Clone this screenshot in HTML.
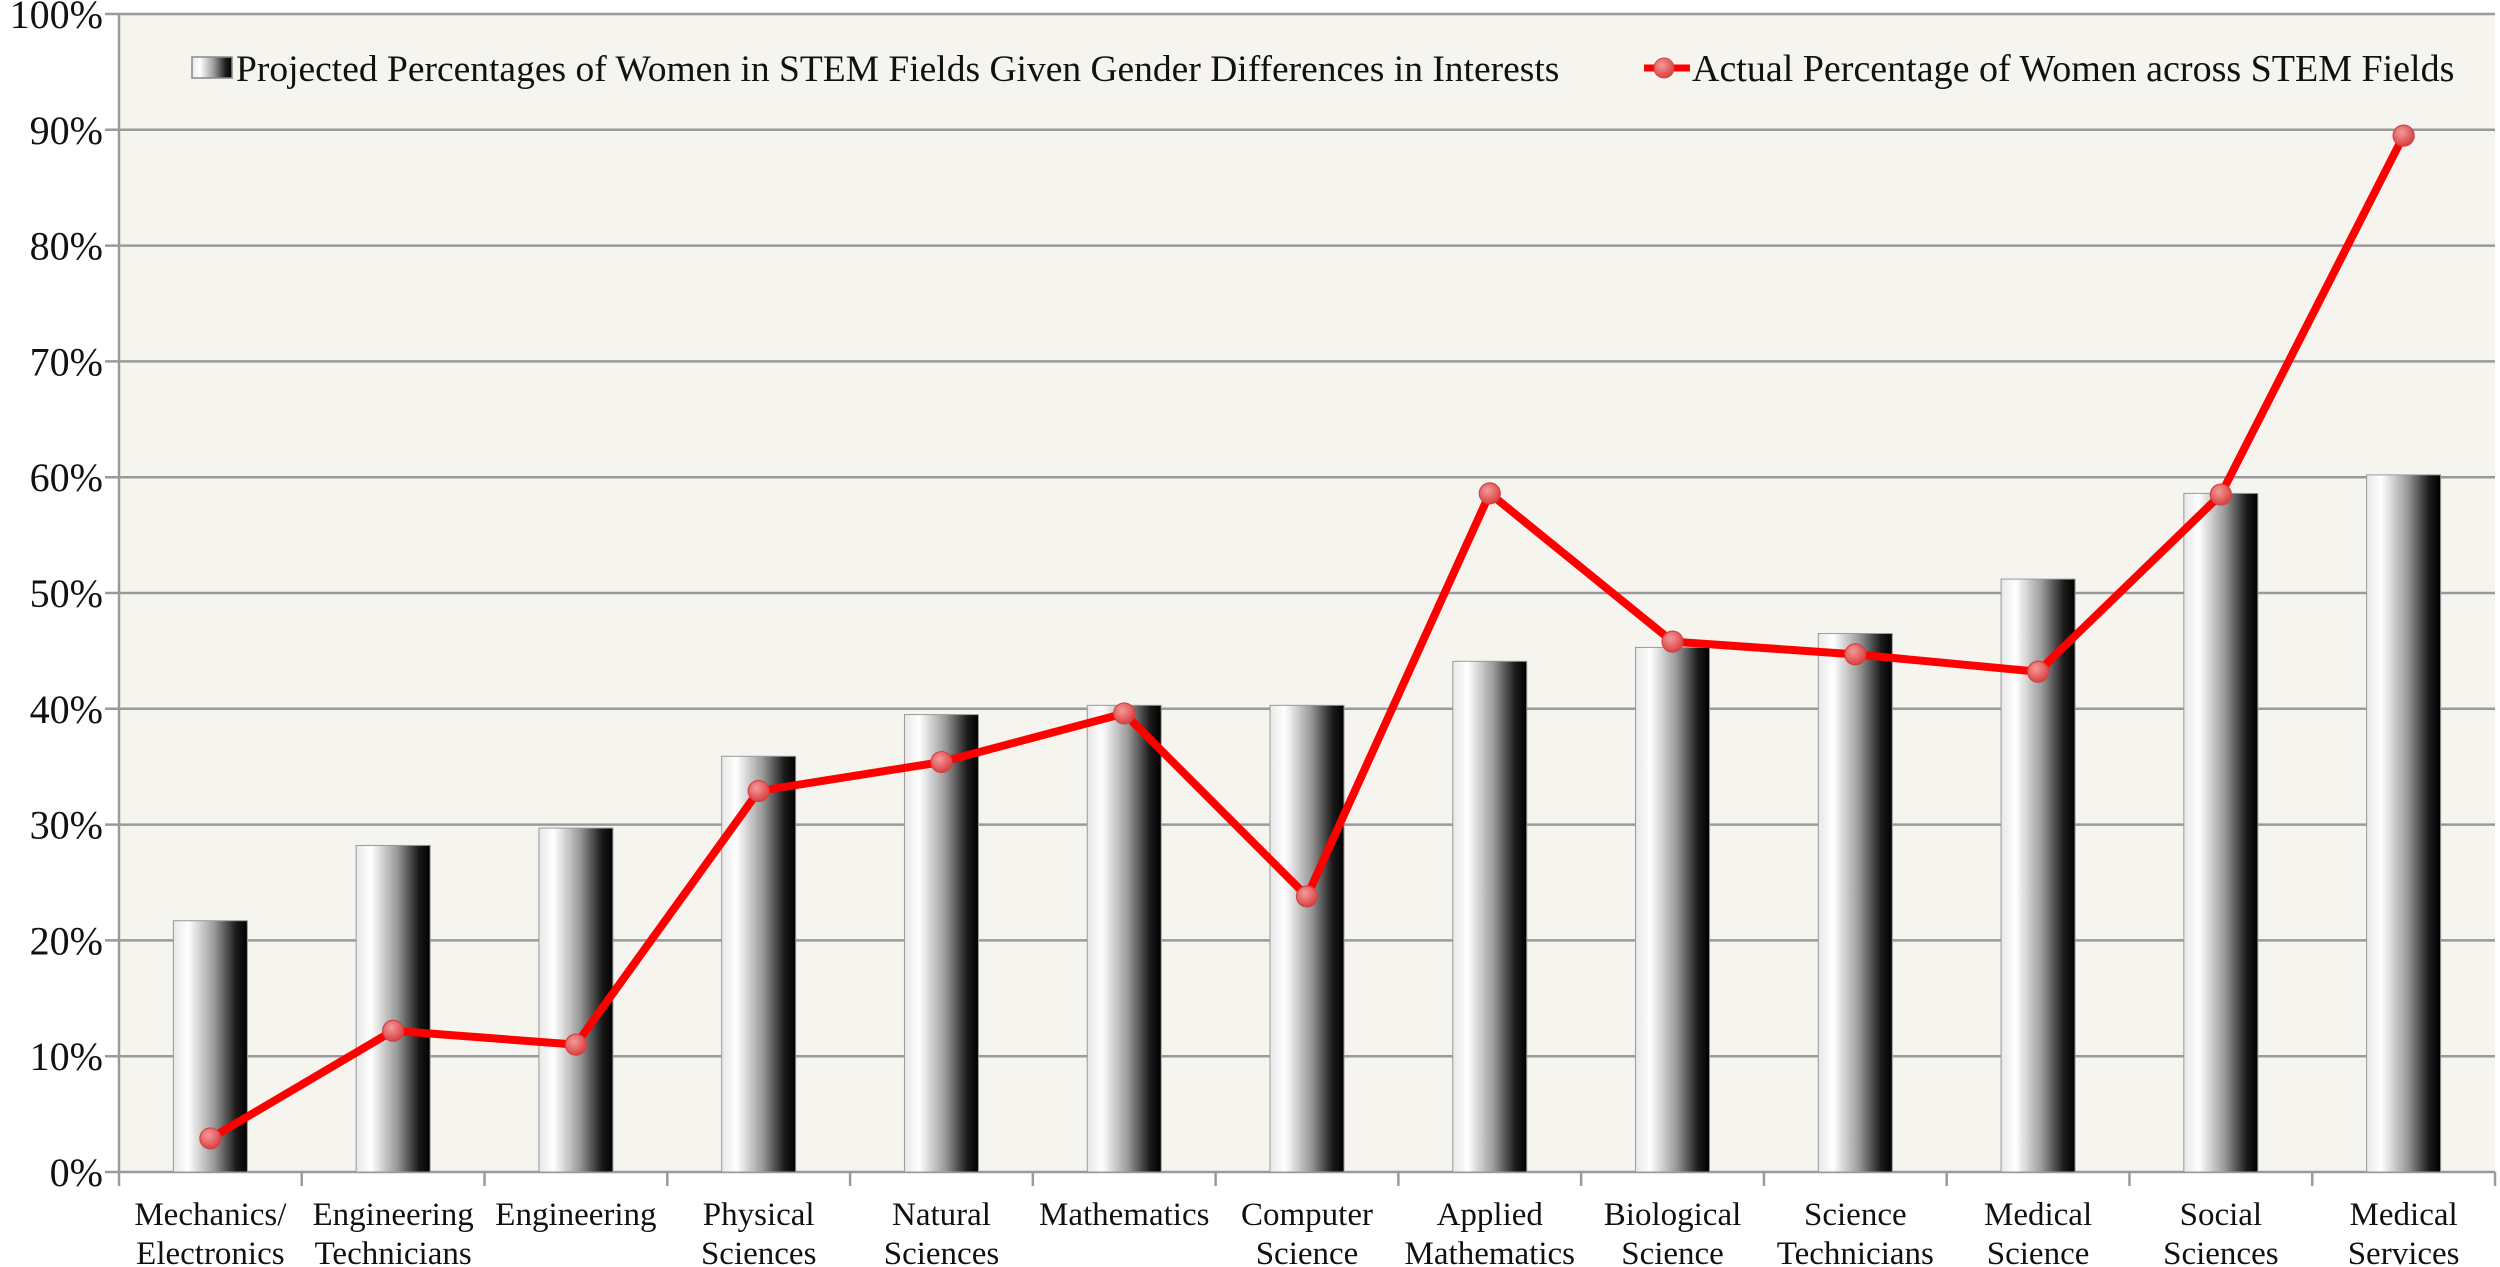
<!DOCTYPE html>
<html><head><meta charset="utf-8"><style>
html,body{margin:0;padding:0;background:#fff;}
svg{display:block;font-family:"Liberation Serif",serif;}
</style></head><body>
<svg id="chart" width="2500" height="1267" viewBox="0 0 2500 1267">
<defs>
<linearGradient id="barg" x1="0" x2="1" y1="0" y2="0">
<stop offset="0" stop-color="#e8e8e8"/><stop offset="0.2" stop-color="#ffffff"/><stop offset="0.55" stop-color="#9a9a9a"/><stop offset="0.85" stop-color="#1a1a1a"/><stop offset="1" stop-color="#000"/>
</linearGradient>
<radialGradient id="dotg" cx="0.4" cy="0.35" r="0.7">
<stop offset="0" stop-color="#f59a9a"/><stop offset="1" stop-color="#d83a3a"/>
</radialGradient>
</defs>
<rect x="119" y="14" width="2376" height="1158" fill="#f5f4ef"/>
<g id="grid"></g><g id="bars"></g><g id="line"></g><g id="axes"></g>
<g>
<rect x="192" y="57" width="40" height="21" fill="url(#barg)" stroke="#888" stroke-width="1.5"/>
<text x="236" y="81" font-size="37.5" fill="#111">Projected Percentages of Women in STEM Fields Given Gender Differences in Interests</text>
<line x1="1644" y1="68" x2="1690" y2="68" stroke="#f00" stroke-width="7"/>
<circle cx="1664" cy="68" r="10" fill="url(#dotg)" stroke="#c44" stroke-width="1"/>
<text x="1692" y="81" font-size="38" fill="#111">Actual Percentage of Women across STEM Fields</text>
</g>
</svg>
<script>
const categories=[["Mechanics/","Electronics"],["Engineering","Technicians"],["Engineering"],["Physical","Sciences"],["Natural","Sciences"],["Mathematics"],["Computer","Science"],["Applied","Mathematics"],["Biological","Science"],["Science","Technicians"],["Medical","Science"],["Social","Sciences"],["Medical","Services"]];
const projected=[21.7,28.2,29.7,35.9,39.5,40.3,40.3,44.1,45.3,46.5,51.2,58.6,60.2];
const actual=[2.9,12.2,11.0,32.9,35.4,39.6,23.8,58.6,45.8,44.7,43.2,58.5,89.5];
const yTicks=[0,10,20,30,40,50,60,70,80,90,100];
const yTickLabels=["0%","10%","20%","30%","40%","50%","60%","70%","80%","90%","100%"];

const NS="http://www.w3.org/2000/svg";
const X0=119,X1=2495,Y0=1172,Y1=14;
const cw=(X1-X0)/categories.length;
const xc=i=>X0+cw*(i+0.5);
const y=v=>Y0-(v/100)*(Y0-Y1);
function mk(tag,attrs,parent){const e=document.createElementNS(NS,tag);for(const k in attrs)e.setAttribute(k,attrs[k]);document.getElementById(parent).appendChild(e);return e;}

yTicks.forEach((t,i)=>{
 const g=mk("line",{x1:X0-14,x2:X1,y1:y(t),y2:y(t),stroke:"#9a9a9a","stroke-width":2.5},"grid");
 
 
 const l=mk("text",{x:X0-16,y:y(t)+14,"text-anchor":"end","font-size":40,fill:"#111"},"axes");
 l.textContent=yTickLabels[i];
 
 
});
const ax=mk("line",{x1:X0,x2:X0,y1:Y1,y2:Y0,stroke:"#9a9a9a","stroke-width":2.5},"axes");


for(let i=0;i<=categories.length;i++){
 const tk=mk("line",{x1:X0+cw*i,x2:X0+cw*i,y1:Y0,y2:Y0+14,stroke:"#9a9a9a","stroke-width":2.5},"axes");
 
 
}
const bw=74;
projected.forEach((v,i)=>{
 const r=mk("rect",{x:xc(i)-bw/2,y:y(v),width:bw,height:Y0-y(v),fill:"url(#barg)",stroke:"#999","stroke-width":1},"bars");
 
 
});
categories.forEach((c,i)=>{
 c.forEach((s,j)=>{
  const t=mk("text",{x:xc(i),y:1225+j*39,"text-anchor":"middle","font-size":33,fill:"#111"},"axes");
  t.textContent=s;
  
  
 });
});
const pts=actual.map((v,i)=>xc(i)+","+y(v)).join(" ");
const pl=mk("polyline",{points:pts,fill:"none",stroke:"#f00","stroke-width":8,"stroke-linejoin":"round"},"line");


actual.forEach((v,i)=>{
 const c=mk("circle",{cx:xc(i),cy:y(v),r:10.5,fill:"url(#dotg)",stroke:"#c44","stroke-width":1.2},"line");
 
 
});
</script>
</body></html>
